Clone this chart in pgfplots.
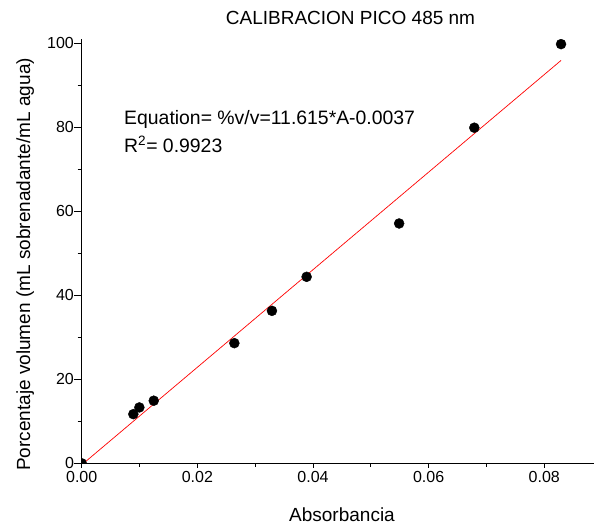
\documentclass[border=0pt]{standalone}
\usepackage{fontspec}
\setmainfont{Liberation Sans}
\usepackage{pgfplots}
\pgfplotsset{compat=1.18}
\begin{document}
\begin{tikzpicture}[x=1pt,y=1pt]
\useasboundingbox (0,0) rectangle (594,524);
\begin{axis}[
  at={(81.7pt,60.7pt)}, anchor=south west,
  scale only axis, width=512.3pt, height=424pt,
  xmin=0, xmax=0.0886, ymin=0, ymax=100.95,
  axis x line*=bottom, axis y line*=left,
  axis line style={black, line width=0.8pt},
  xtick={0,0.02,0.04,0.06,0.08},
  ytick={0,20,40,60,80,100},
  minor x tick num=1, minor y tick num=1,
  tick align=outside,
  xtick style={black, line width=0.8pt, /pgfplots/major tick length=4.5pt, /pgfplots/minor tick length=3.5pt},
  ytick style={black, line width=0.8pt, /pgfplots/major tick length=7.5pt, /pgfplots/minor tick length=4pt},
  scaled x ticks=false,
  /pgf/number format/assume math mode=true,
  xticklabel style={/pgf/number format/fixed, /pgf/number format/fixed zerofill, /pgf/number format/precision=2},
  tick label style={font=\fontsize{16}{19}\selectfont, black},
  clip marker paths=true,
]
\addplot[red, line width=0.7pt] coordinates {(0,-0.37) (0.0829,95.92)};
\addplot[only marks, mark=*, mark size=5pt, black] coordinates {
  (0,0) (0.00893,11.7) (0.00997,13.3) (0.01246,14.9) (0.0264,28.6)
  (0.0329,36.3) (0.0389,44.4) (0.0549,57.1) (0.0679,79.9) (0.0829,99.8)
};
\end{axis}
\node[anchor=base, font=\fontsize{19}{22}\selectfont] at (350.5,499) {CALIBRACION PICO 485 nm};
\node[anchor=base, font=\fontsize{19}{22}\selectfont] at (342,2.5) {Absorbancia};
\node[anchor=base, rotate=90, font=\fontsize{19}{22}\selectfont] at (30,259.5) {Porcentaje volumen (mL sobrenadante/mL agua)};
\node[anchor=base west, inner sep=0pt, font=\fontsize{19.4}{22}\selectfont] at (124,399) {Equation= \%v/v=11.615*A-0.0037};
\node[anchor=base west, inner sep=0pt, font=\fontsize{19.4}{22}\selectfont] at (124,371) {R\textsuperscript{2}= 0.9923};
\end{tikzpicture}
\end{document}
